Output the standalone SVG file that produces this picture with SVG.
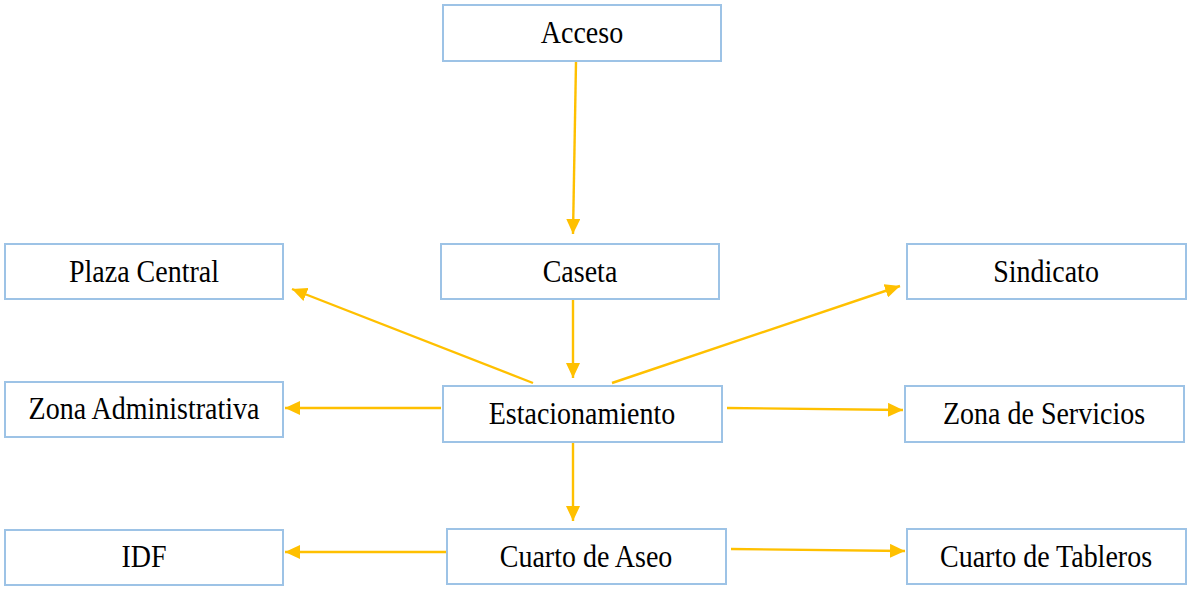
<svg xmlns="http://www.w3.org/2000/svg" width="1189" height="589" viewBox="0 0 1189 589">
<defs>
<style>
.box{fill:#fff;stroke:#9DC3E6;stroke-width:2}
.lbl{font-family:"Liberation Serif","Times New Roman",serif;font-size:28px;fill:#000;text-anchor:middle}
.con{stroke:#FFC000;stroke-width:2.4;fill:none;marker-end:url(#ah)}
</style>
<marker id="ah" viewBox="0 0 15 14" refX="15" refY="7" markerWidth="15" markerHeight="14" markerUnits="userSpaceOnUse" orient="auto">
<path d="M0,0 L15,7 L0,14 z" fill="#FFC000"/>
</marker>
</defs>
<rect width="1189" height="589" fill="#fff"/>
<g id="connectors">
<line class="con" x1="576" y1="62" x2="573" y2="234"/>
<line class="con" x1="573" y1="298" x2="573" y2="378"/>
<line class="con" x1="533" y1="383" x2="292" y2="289"/>
<line class="con" x1="612" y1="383" x2="900" y2="286"/>
<line class="con" x1="441" y1="408" x2="285" y2="408"/>
<line class="con" x1="727" y1="408" x2="903" y2="410"/>
<line class="con" x1="573" y1="440" x2="573" y2="521"/>
<line class="con" x1="446" y1="552" x2="285" y2="552"/>
<line class="con" x1="731" y1="549" x2="905" y2="551"/>
</g>
<g id="acceso"><rect class="box" x="443" y="5" width="278" height="56"/><text class="lbl" transform="translate(582,43) scale(1,1.12)">Acceso</text></g>
<g id="plaza-central"><rect class="box" x="5" y="244" width="278" height="55"/><text class="lbl" transform="translate(144,282) scale(1,1.12)">Plaza Central</text></g>
<g id="caseta"><rect class="box" x="441" y="244" width="278" height="55"/><text class="lbl" transform="translate(580,282) scale(1,1.12)">Caseta</text></g>
<g id="sindicato"><rect class="box" x="907" y="244" width="279" height="55"/><text class="lbl" transform="translate(1046,282) scale(1,1.12)">Sindicato</text></g>
<g id="zona-administrativa"><rect class="box" x="5" y="382" width="278" height="55"/><text class="lbl" transform="translate(144,419) scale(1,1.12)">Zona Administrativa</text></g>
<g id="estacionamiento"><rect class="box" x="443" y="386" width="279" height="56"/><text class="lbl" transform="translate(582,424) scale(1,1.12)">Estacionamiento</text></g>
<g id="zona-servicios"><rect class="box" x="905" y="386" width="279" height="56"/><text class="lbl" transform="translate(1044,424) scale(1,1.12)">Zona de Servicios</text></g>
<g id="idf"><rect class="box" x="5" y="530" width="278" height="55"/><text class="lbl" transform="translate(144,567) scale(1,1.12)">IDF</text></g>
<g id="cuarto-aseo"><rect class="box" x="447" y="529" width="279" height="55"/><text class="lbl" transform="translate(586,567) scale(1,1.12)">Cuarto de Aseo</text></g>
<g id="cuarto-tableros"><rect class="box" x="907" y="529" width="279" height="55"/><text class="lbl" transform="translate(1046,567) scale(1,1.12)">Cuarto de Tableros</text></g>
</svg>
